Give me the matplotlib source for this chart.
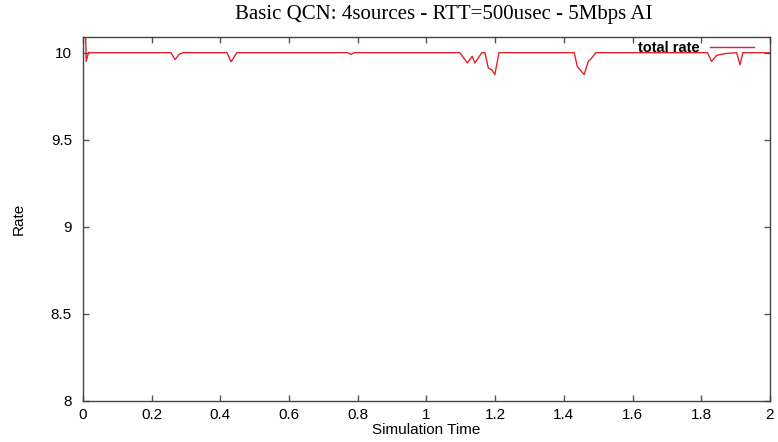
import matplotlib
matplotlib.use('Agg')
import matplotlib.pyplot as plt

# Simulation time and total rate
sim_time = [0.0, 0.006, 0.009, 0.016, 0.256, 0.268, 0.28, 0.291,
            0.419, 0.431, 0.448, 0.77, 0.78, 0.79,
            1.097, 1.119, 1.133, 1.141, 1.161, 1.170, 1.180, 1.190, 1.199, 1.211,
            1.430, 1.439, 1.447, 1.459, 1.471, 1.479, 1.493,
            1.818, 1.830, 1.845, 1.870, 1.903, 1.913, 1.921, 2.0]
total_rate = [10.6, 10.3, 9.95, 10.0, 10.0, 9.96, 9.99, 10.0,
              10.0, 9.948, 10.0, 10.0, 9.99, 10.0,
              10.0, 9.941, 9.979, 9.941, 10.0, 10.0, 9.912, 9.902, 9.874, 10.0,
              10.0, 9.921, 9.902, 9.874, 9.95, 9.964, 10.0,
              10.0, 9.95, 9.985, 9.995, 10.0, 9.93, 10.0, 10.0]

x_ticks = [0, 0.2, 0.4, 0.6, 0.8, 1, 1.2, 1.4, 1.6, 1.8, 2]
x_labels = ['0', '0.2', '0.4', '0.6', '0.8', '1', '1.2', '1.4', '1.6', '1.8', '2']
y_ticks = [8, 8.5, 9, 9.5, 10]
y_labels = ['8', '8.5', '9', '9.5', '10']

sans = 'Liberation Sans'

fig = plt.figure(figsize=(7.78, 4.42), dpi=100)
ax = fig.add_axes([0.1067, 0.0928, 0.8830, 0.8235])

ax.plot(sim_time, total_rate, color='#e3222a', lw=1.0, label='total rate')
ax.set_xlim(0, 2)
ax.set_ylim(8, 10.09)

ax.set_xticks(x_ticks)
ax.set_xticklabels(x_labels, fontfamily=sans, fontsize=11)
ax.set_yticks(y_ticks)
ax.set_yticklabels(y_labels, fontfamily=sans, fontsize=11)
ax.tick_params(axis='x', direction='in', length=4.5, width=1, top=True,
               color='#555555', pad=5)
ax.tick_params(axis='y', direction='in', length=4.5, width=1, right=True,
               color='#555555', pad=8)

for s in ax.spines.values():
    s.set_color('#444444')
    s.set_linewidth(1.0)

fig.text(444 / 778, 1 - 15 / 442, 'Basic QCN: 4sources - RTT=500usec - 5Mbps AI',
         fontfamily='Liberation Serif', fontsize=15, ha='center', va='center')
ax.set_xlabel('Simulation Time', fontfamily=sans, fontsize=11)
ax.xaxis.set_label_coords(0.5, (401 - 430) / 364)
ax.xaxis.label.set_va('center')
ax.set_ylabel('Rate', fontfamily=sans, fontsize=11)
ax.yaxis.set_label_coords((18.5 - 83) / 687, 0.5)
ax.yaxis.label.set_va('center')

leg = ax.legend(loc='center right', frameon=False, markerfirst=False,
                prop={'family': sans, 'size': 10.5, 'weight': 'bold'},
                handlelength=3.0, handletextpad=0.7, borderaxespad=0,
                bbox_to_anchor=(0.985, 0.97))

fig.savefig('out.png', dpi=100)
